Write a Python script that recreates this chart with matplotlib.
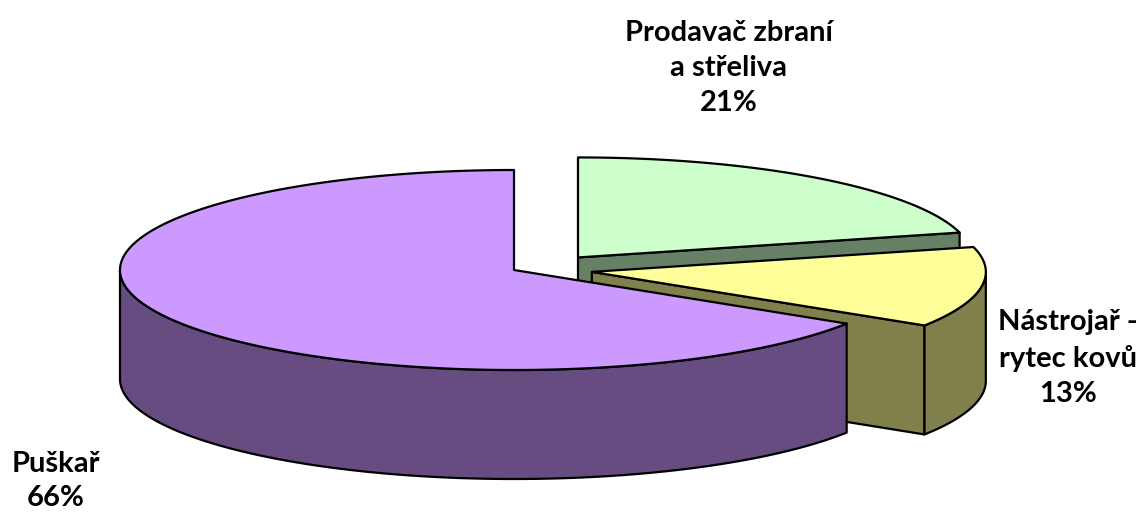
import numpy as np
import matplotlib
matplotlib.use("Agg")
import matplotlib.pyplot as plt
from matplotlib.patches import Polygon

# ---- data ----
categories = ["Prodavač zbraní\na střeliva", "Nástrojař -\nrytec kovů", "Puškař"]
values = [21, 13, 66]
top_colors = ["#CCFFCC", "#FFFF99", "#CC99FF"]
side_colors = ["#668066", "#80804C", "#664C80"]
explode = [0.265, 0.2, 0.0]

# ---- layout ----
W, H = 1141, 512
cx, cy = 514, 270       # pie centre (pixels)
a, b = 394, 100         # ellipse radii
depth = 109
explode_vscale = 0.6
label_pos = [(729, 68), (1068, 358), (56, 481)]

plt.rcParams['font.family'] = ['Lato', 'DejaVu Sans']
fig = plt.figure(figsize=(W / 100, H / 100), dpi=100)
ax = fig.add_axes([0, 0, 1, 1])
ax.set_xlim(0, W)
ax.set_ylim(H, 0)
ax.axis('off')

total = float(sum(values))
# slices go clockwise from 12 o'clock
angles = []
start = 90.0
for v in values:
    span = 360.0 * v / total
    angles.append((start - span, start))  # (a1, a2) ccw-ordered
    start -= span


def pt(x0, y0, th, z=0.0):
    t = np.radians(th)
    return x0 + a * np.cos(t), y0 - b * np.sin(t) + z


lw = 1.6
for i, (a1, a2) in enumerate(angles):
    mid = np.radians((a1 + a2) / 2)
    ox = cx + explode[i] * a * np.cos(mid)
    oy = cy - explode[i] * b * explode_vscale * np.sin(mid)
    # radial faces
    for th, nrm in ((a1, a1 - 90), (a2, a2 + 90)):
        if np.sin(np.radians(nrm)) < -1e-6:
            px, py = pt(ox, oy, th)
            quad = [(ox, oy), (px, py), (px, py + depth), (ox, oy + depth)]
            ax.add_patch(Polygon(quad, closed=True, facecolor=side_colors[i],
                                 edgecolor='black', lw=lw, joinstyle='round'))
    # outer curved side (front half only)
    segs = []
    for k in (-360, 0, 360):
        s0, s1 = max(a1 + k, 180), min(a2 + k, 360)
        if s1 > s0:
            segs.append((s0, s1))
    for s0, s1 in segs:
        th = np.linspace(s0, s1, 200)
        xs, ys = pt(ox, oy, th)
        poly = np.column_stack([np.r_[xs, xs[::-1]], np.r_[ys, (ys + depth)[::-1]]])
        ax.add_patch(Polygon(poly, closed=True, facecolor=side_colors[i],
                             edgecolor='black', lw=lw, joinstyle='round'))
    # top face
    th = np.linspace(a1, a2, 400)
    xs, ys = pt(ox, oy, th)
    poly = np.column_stack([np.r_[ox, xs], np.r_[oy, ys]])
    ax.add_patch(Polygon(poly, closed=True, facecolor=top_colors[i],
                         edgecolor='black', lw=lw, joinstyle='round'))

for i, (lab, v) in enumerate(zip(categories, values)):
    x, y = label_pos[i]
    ax.text(x, y, f"{lab}\n{v}%", ha='center', va='center', fontsize=21,
            fontweight='bold', linespacing=1.42, color='black')

fig.savefig("out.png", dpi=100)
